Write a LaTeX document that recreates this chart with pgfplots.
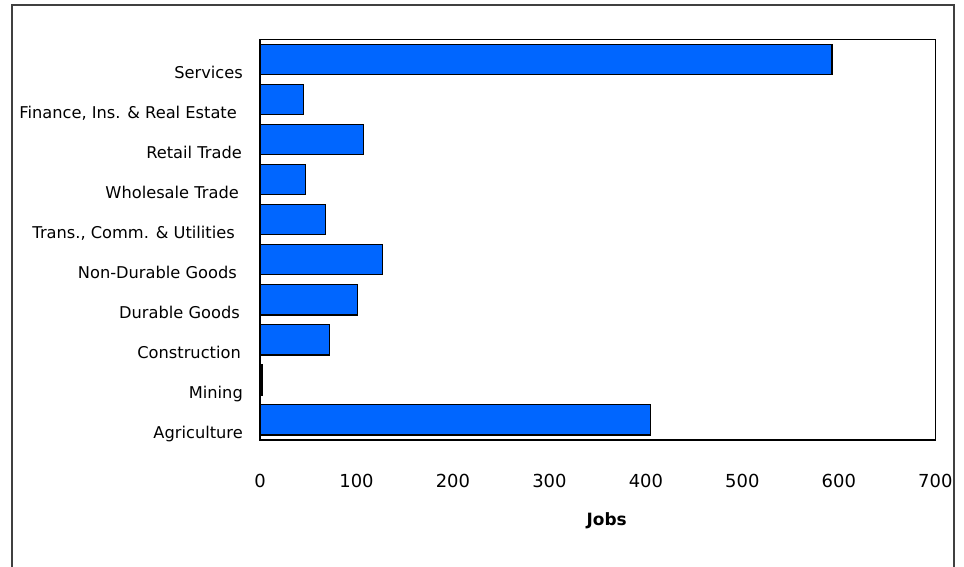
\documentclass[border=0pt]{standalone}
\usepackage{pgfplots}
\pgfplotsset{compat=1.18}
\usepackage{fontspec}
\setmainfont{DejaVu Sans}
\definecolor{barblue}{RGB}{0,102,255}
\begin{document}
\begin{tikzpicture}[x=1bp,y=1bp]
\begin{axis}[
  at={(0,0)}, anchor=south west,
  scale only axis, width=675.3bp, height=400.7bp,
  xmin=0, xmax=700, ymin=-0.5, ymax=9.5,
  xtick={0,100,...,700},
  ytick={0,...,9},
  yticklabels={Agriculture, Mining, Construction\hspace*{2bp}, Durable Goods\hspace*{3bp}, Non-Durable Goods\hspace*{6bp}, {Trans., Comm. \& Utilities\hspace*{8bp}}, Wholesale Trade\hspace*{4bp}, Retail Trade\hspace*{1bp}, {Finance, Ins. \& Real Estate\hspace*{6bp}}, Services},
  major tick length=0pt,
  axis line style={line width=1.5bp, black},
  /pgf/number format/assume math mode=true,
  xticklabel style={font=\fontsize{18}{21}\selectfont, anchor=center, yshift=-41bp, inner sep=0pt},
  yticklabel style={font=\fontsize{16.3}{19}\selectfont, anchor=base east, xshift=-17bp, yshift=-19bp, inner sep=0pt},
  xlabel={\textbf{Jobs}},
  xlabel style={font=\fontsize{17}{20}\selectfont, at={(axis description cs:0.5,0)}, anchor=center, yshift=-81bp, xshift=9bp, inner sep=0pt},
  clip=false,
]
\addplot[xbar, fill=barblue, draw=black, line width=1.3bp, bar width=30.3bp, bar shift=0pt]
coordinates {(405,0) (2,1) (72,2) (101,3) (127,4) (68,5) (47,6) (107,7) (45,8) (593,9)};
\end{axis}
\draw[line width=2bp, draw=black!75] (-248,-140) -- (-248,434.5) -- (694,434.5) -- (694,-140);
\pgfresetboundingbox
\useasboundingbox (-260,-127) rectangle (704,440);
\end{tikzpicture}
\end{document}
